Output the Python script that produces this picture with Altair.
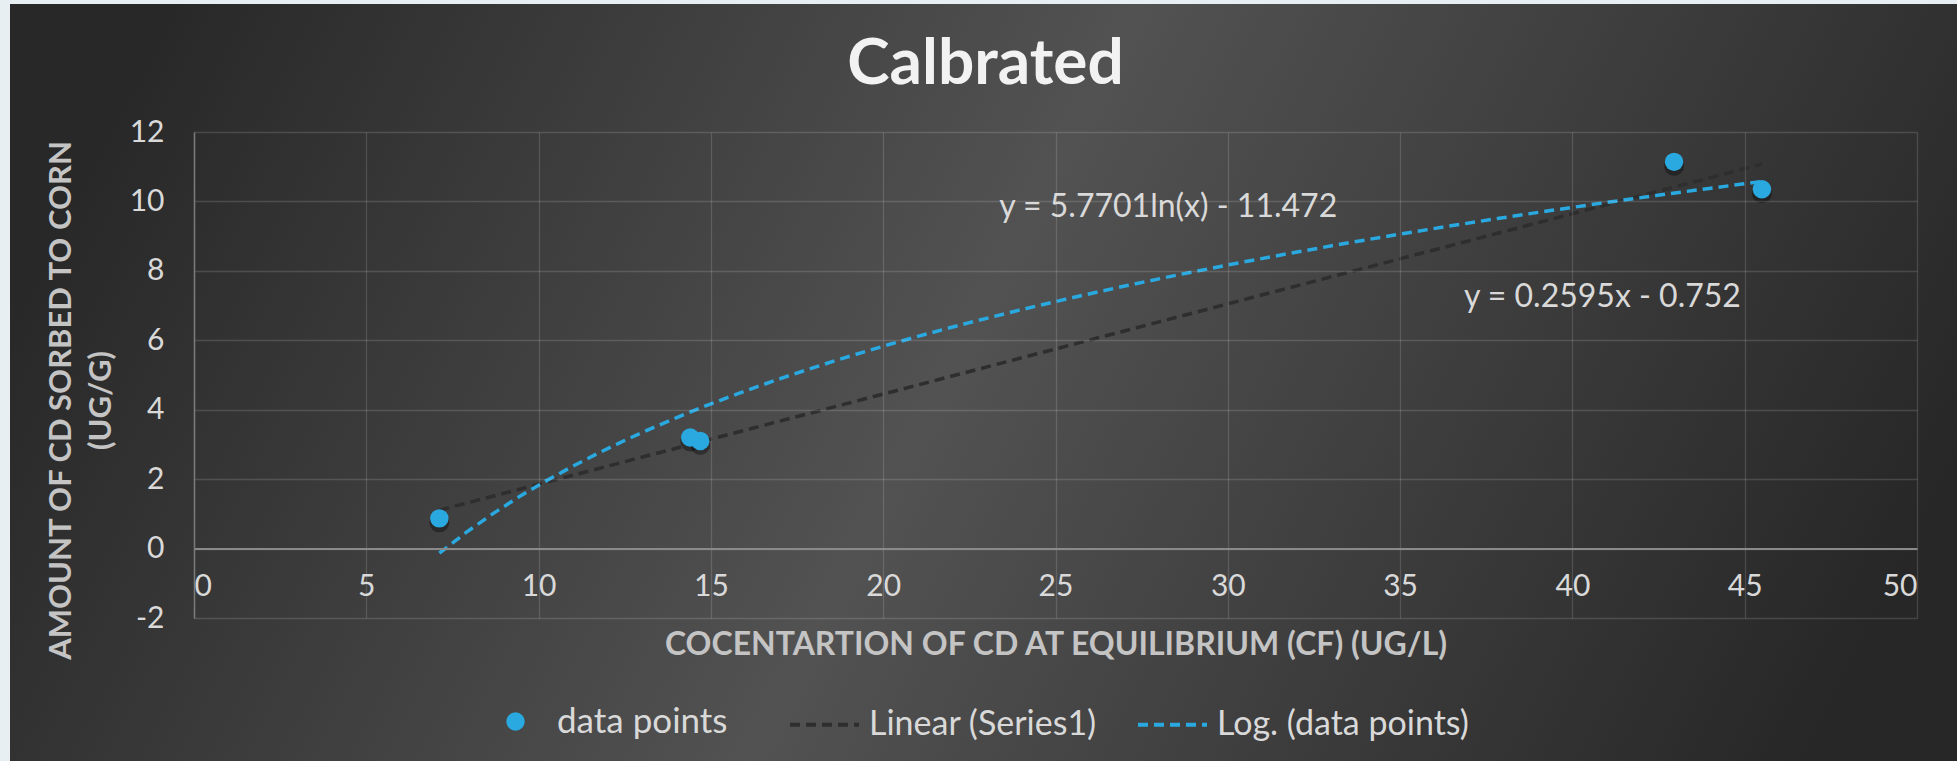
import altair as alt
import pandas as pd

# ---- data ----
X_VALUES = [7.12, 14.40, 14.69, 42.95, 45.50]
Y_VALUES = [0.87, 3.20, 3.10, 11.14, 10.35]
X_TICKS = [0, 5, 10, 15, 20, 25, 30, 35, 40, 45, 50]
Y_TICKS = [-2, 0, 2, 4, 6, 8, 10, 12]
SERIES = ["data points", "Linear (Series1)", "Log. (data points)"]
EQUATIONS = ["y = 5.7701ln(x) - 11.472", "y = 0.2595x - 0.752"]
TITLE = "Calbrated"
X_TITLE = "COCENTARTION OF CD AT EQUILIBRIUM (CF) (UG/L)"
Y_TITLE = ["AMOUNT OF CD SORBED TO CORN", "(UG/G)"]

BLUE = "#2aa9e0"
DARK = "#2e2e2e"
FONT = "Lato"

df = pd.DataFrame({"x": X_VALUES, "y": Y_VALUES, "pt": SERIES[0]})

x_enc = alt.X(
    "x:Q",
    scale=alt.Scale(domain=[0, 50], nice=False, zero=False),
    axis=alt.Axis(
        values=X_TICKS, title=X_TITLE, offset=-69.43, labelPadding=23,
        titleY=96, titleBaseline="middle", titleFontSize=32, zindex=1,
        domainColor="#8a8a8a", domainWidth=2,
    ),
)
y_enc = alt.Y(
    "y:Q",
    scale=alt.Scale(domain=[-2, 12], nice=False, zero=False),
    axis=alt.Axis(
        values=Y_TICKS, title=Y_TITLE, labelPadding=30, labelExpr="'' + datum.value",
        titleX=-133, titleY=268, titleAngle=270, titleAlign="center",
        titleBaseline="middle", titleLineHeight=40, titleFontSize=31, zindex=1,
        domainColor="#7a7a7a", domainWidth=1.5,
    ),
)

bg = alt.Chart(pd.DataFrame({"k": [0]})).mark_rect(
    fill=alt.Gradient(
        gradient="linear", x1=0, y1=0.4, x2=1, y2=0.6,
        stops=[
            alt.GradientStop(color="#282828", offset=0),
            alt.GradientStop(color="#525252", offset=0.48),
            alt.GradientStop(color="#272727", offset=1),
        ],
    )
).encode(x=alt.value(-184), x2=alt.value(1763), y=alt.value(-128), y2=alt.value(629))

base = alt.Chart(df)

stroke_enc = alt.Stroke(
    "series:N",
    scale=alt.Scale(domain=SERIES[1:], range=[DARK, BLUE]),
    legend=alt.Legend(
        orient="none", legendX=594, legendY=556, direction="horizontal", title=None,
        symbolType="stroke", symbolSize=4761, symbolStrokeWidth=4, symbolDash=[10, 6],
        labelOffset=8, columnPadding=33, labelFontSize=34, labelFont=FONT,
        labelColor="#d9d9d9", padding=0, labelLimit=500,
    ),
)

lin = base.transform_regression("x", "y", method="linear").transform_calculate(
    series="'" + SERIES[1] + "'"
).mark_line(strokeWidth=3.5, strokeDash=[10, 6]).encode(x=x_enc, y=y_enc, stroke=stroke_enc)

logl = base.transform_regression("x", "y", method="log").transform_calculate(
    series="'" + SERIES[2] + "'"
).mark_line(strokeWidth=3.5, strokeDash=[10, 6]).encode(x=x_enc, y=y_enc, stroke=stroke_enc)

shadow = base.mark_circle(size=400, color="#000000", opacity=0.35, yOffset=4).encode(x=x_enc, y=y_enc)

pts = base.mark_circle(size=340, opacity=1).encode(
    x=x_enc, y=y_enc,
    fill=alt.Fill(
        "pt:N",
        scale=alt.Scale(domain=[SERIES[0]], range=[BLUE]),
        legend=alt.Legend(
            orient="none", legendX=304, legendY=572, title=None, symbolType="circle",
            symbolSize=340, labelOffset=24, labelFontSize=35, labelFont=FONT,
            labelColor="#d9d9d9", padding=0, labelLimit=500,
        ),
    ),
)

eq1 = alt.Chart(pd.DataFrame({"k": [0]})).mark_text(
    font=FONT, fontSize=32, color="#d9d9d9"
).encode(x=alt.datum(28.27), y=alt.datum(9.85), text=alt.value(EQUATIONS[0]))
eq2 = alt.Chart(pd.DataFrame({"k": [0]})).mark_text(
    font=FONT, fontSize=32, color="#d9d9d9"
).encode(x=alt.datum(40.87), y=alt.datum(7.24), text=alt.value(EQUATIONS[1]))

chart = alt.layer(bg, lin, logl, shadow, pts, eq1, eq2).properties(
    width=1723, height=486,
    autosize=alt.AutoSizeParams(type="none"),
    padding={"left": 194, "top": 132, "right": 40, "bottom": 143},
    background="#e8eff3",
    title=alt.Title(
        TITLE, font=FONT, fontSize=64, fontWeight="bold", color="#f2f2f2",
        anchor="middle", frame="group", dx=-70, offset=30, dy=123,
    ),
).configure_axis(
    labelFont=FONT, labelFontSize=30, labelColor="#d9d9d9",
    titleFont=FONT, titleColor="#c4c4c4", titleFontWeight="bold",
    gridColor="#ffffff", gridOpacity=0.14, gridWidth=1.3,
    ticks=False, tickSize=0,
).configure_view(stroke=None)

chart.save("out.html", embed_options={"renderer": "svg", "actions": False})
